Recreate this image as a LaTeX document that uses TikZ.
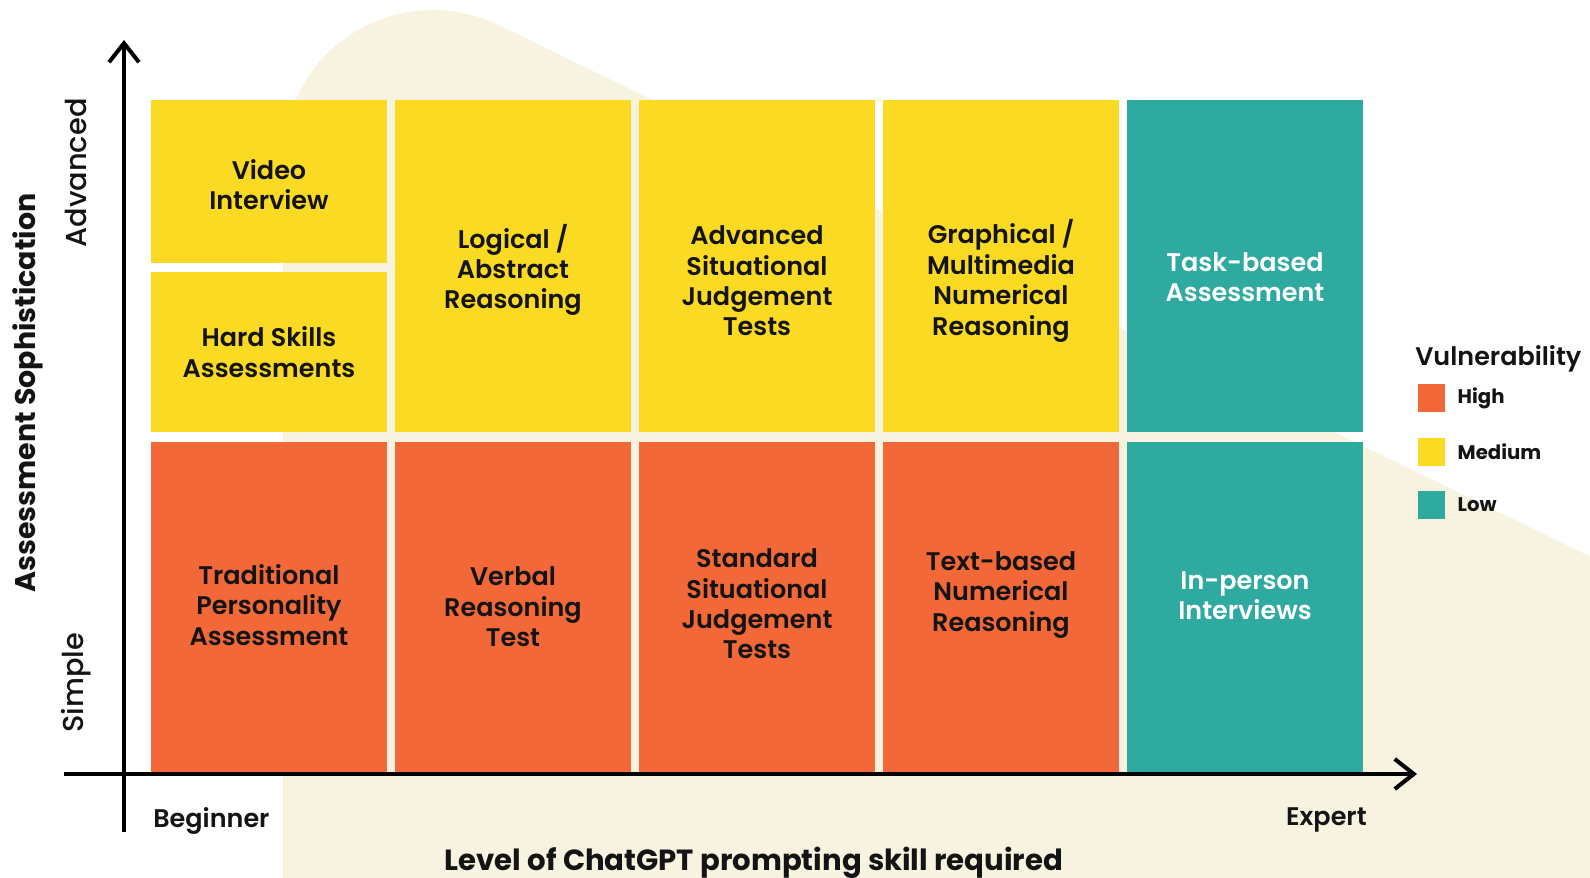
\documentclass[tikz,border=0pt]{standalone}
\usepackage{fontspec}
\setmainfont{Poppins}[UprightFont={* Medium}, BoldFont={* SemiBold}]
\newfontfamily\heavyfont{Poppins Bold}
\definecolor{hiorange}{RGB}{242,104,56}
\definecolor{medyellow}{RGB}{251,218,35}
\definecolor{lowteal}{RGB}{46,170,161}
\definecolor{cream}{RGB}{248,242,225}
\definecolor{ink}{RGB}{20,20,20}
\usetikzlibrary{arrows.meta, positioning}

\begin{document}
\begin{tikzpicture}[
  every node/.style={text=ink, align=center},
  boxfont/.style={font=\bfseries\fontsize{14.5}{17.3}\selectfont},
  cell/.style={minimum width=4.72cm, inner sep=0pt},
  swatch/.style={minimum width=0.54cm, minimum height=0.56cm, inner sep=0pt},
  axis/.style={line width=2.3pt, -{Straight Barb[length=3.8mm, width=6mm]}}]
  \useasboundingbox (0,0) rectangle (31.8,17.56);

  % background shape
  \fill[cream] (5.66,0) -- (5.66,14.36) arc[start angle=180, end angle=64, radius=3]
    -- (31.8,6.43) -- (31.8,0) -- cycle;

  % first column is split in two
  \node[cell, fill=medyellow, minimum height=3.26cm] (vid) at (5.38,13.93) {};
  \node[boxfont] (vidtxt) at ([yshift=-0.06cm]vid.center) {Video\\Interview};
  \node[cell, fill=medyellow, minimum height=3.20cm] (hard) at (5.38,10.52) {};
  \node[boxfont] (hardtxt) at (hard.center) {Hard Skills\\Assessments};

  % upper row
  \foreach \x/\col/\txt/\dy/\name/\lab in {
      10.26/medyellow/ink/-0.08/logic/{Logical /\\Abstract\\Reasoning},
      15.14/medyellow/ink/-0.30/advsjt/{Advanced\\Situational\\Judgement\\Tests},
      20.02/medyellow/ink/-0.30/graph/{Graphical /\\Multimedia\\Numerical\\Reasoning},
      24.90/lowteal/white/-0.22/task/{Task-based\\Assessment}}{
    \node[cell, fill=\col, minimum height=6.64cm] (\name) at (\x,12.24) {};
    \node[boxfont, text=\txt] (\name txt) at ([yshift=\dy cm]\name.center) {\lab};
  }

  % lower row
  \foreach \x/\col/\txt/\dy/\name/\lab in {
      5.38/hiorange/ink/0.04/trad/{Traditional\\Personality\\Assessment},
      10.26/hiorange/ink/0/verbal/{Verbal\\Reasoning\\Test},
      15.14/hiorange/ink/0.06/stdsjt/{Standard\\Situational\\Judgement\\Tests},
      20.02/hiorange/ink/0.24/textnum/{Text-based\\Numerical\\Reasoning},
      24.90/lowteal/white/0.22/inperson/{In-person\\Interviews}}{
    \node[cell, fill=\col, minimum height=6.60cm] (\name) at (\x,5.42) {};
    \node[boxfont, text=\txt] (\name txt) at ([yshift=\dy cm]\name.center) {\lab};
  }

  % axes
  \coordinate (ybot) at (2.48,0.92);
  \coordinate (ytop) at (2.48,16.76);
  \coordinate (xleft) at (1.28,2.08);
  \coordinate (xright) at (28.34,2.08);
  \draw[axis] (ybot) -- (ytop);
  \draw[axis] (xleft) -- (xright);

  \node[boxfont, anchor=west, inner sep=0pt] (beg) at (3.06,1.14) {Beginner};
  \node[boxfont, anchor=east, inner sep=0pt] (exp) at (27.34,1.16) {Expert};
  \node[font=\heavyfont\fontsize{16.6}{19}\selectfont] (xlab) at (15.08,0.30) {Level of ChatGPT prompting skill required};
  \node[font=\heavyfont\fontsize{16.2}{19}\selectfont, rotate=90] (ylab) at (0.56,9.70) {Assessment Sophistication};
  \node[font=\fontsize{16.4}{19}\selectfont, rotate=90] (adv) at (1.52,14.10) {Advanced};
  \node[font=\fontsize{16.4}{19}\selectfont, rotate=90] (simp) at (1.52,3.90) {Simple};

  % legend
  \node[boxfont, anchor=west, inner sep=0pt] (vuln) at (28.30,10.38) {Vulnerability};
  \foreach \y/\col/\name/\lab in {9.60/hiorange/high/High, 8.52/medyellow/med/Medium, 7.46/lowteal/low/Low}{
    \node[swatch, fill=\col] (\name) at (28.63,\y) {};
    \node[font=\heavyfont\fontsize{11.2}{13}\selectfont, inner sep=0pt, right=0.24cm of \name] (\name txt) {\lab};
  }
\end{tikzpicture}
\end{document}
